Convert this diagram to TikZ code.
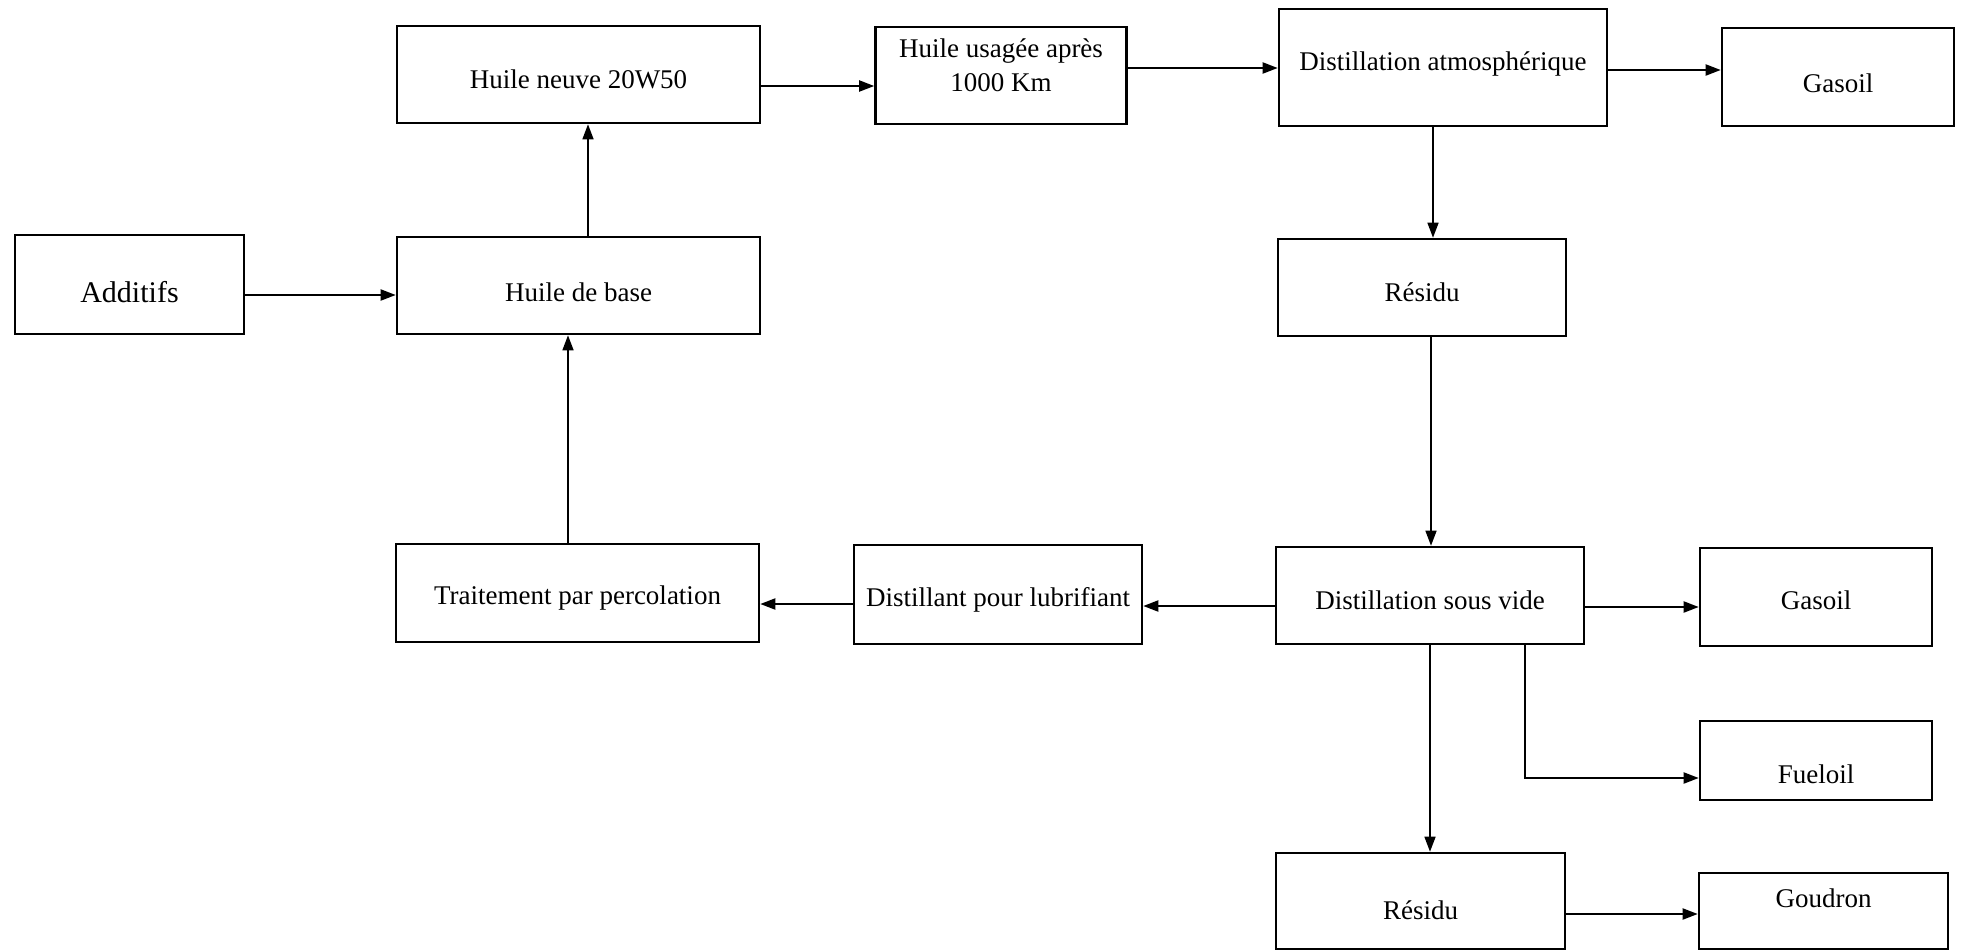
\documentclass[tikz,border=0pt]{standalone}
\usepackage{fontspec}
\setmainfont{Liberation Serif}
\usetikzlibrary{arrows.meta}
\begin{document}
\begin{tikzpicture}[x=1pt,y=-1pt,
  box/.style={draw=black,line width=2.6pt,rectangle,inner sep=0pt},
  lbl/.style={font=\fontsize{27}{34}\selectfont,align=center,inner sep=0pt},
  arr/.style={line width=2pt,-{Triangle[length=15pt,width=11pt]}},
  varr/.style={line width=1.5pt,-{Triangle[length=15pt,width=11pt]}}]
\useasboundingbox[fill=white] (0,0) rectangle (1963,951);
\node[box,minimum width=229pt,minimum height=99pt,label={[lbl,font=\fontsize{30}{36}\selectfont,yshift=-8pt]center:Additifs}] (add) at (129.5,284.5) {};
\node[box,minimum width=363pt,minimum height=97pt,label={[lbl,yshift=-7pt]center:Huile de base}] (base) at (578.5,285.5) {};
\node[box,minimum width=363pt,minimum height=97pt,label={[lbl,yshift=-5pt]center:Huile neuve 20W50}] (neuve) at (578.5,74.5) {};
\node[box,minimum width=251pt,minimum height=97pt,label={[lbl,yshift=10pt]center:Huile usagée après\\1000 Km}] (usagee) at (1001,75.5) {};
\node[box,minimum width=328pt,minimum height=117pt,label={[lbl,yshift=4pt]center:Distillation atmosphérique}] (datm) at (1443,67.5) {};
\node[box,minimum width=232pt,minimum height=98pt,label={[lbl,yshift=-6pt]center:Gasoil}] (gas1) at (1838,77) {};
\node[box,minimum width=288pt,minimum height=97pt,label={[lbl,yshift=-5pt]center:Résidu}] (res1) at (1422,287.5) {};
\node[box,minimum width=363pt,minimum height=98pt,label={[lbl,yshift=-5pt]center:Traitement par percolation}] (trait) at (577.5,593) {};
\node[box,minimum width=288pt,minimum height=99pt,label={[lbl,yshift=-5pt]center:Distillant pour lubrifiant}] (distil) at (998,594.5) {};
\node[box,minimum width=308pt,minimum height=97pt,label={[lbl,yshift=-5pt]center:Distillation sous vide}] (dsv) at (1430,595.5) {};
\node[box,minimum width=232pt,minimum height=98pt,label={[lbl,yshift=-3pt]center:Gasoil}] (gas2) at (1816,597) {};
\node[box,minimum width=232pt,minimum height=79pt,label={[lbl,yshift=-14pt]center:Fueloil}] (fuel) at (1816,760.5) {};
\node[box,minimum width=289pt,minimum height=96pt,label={[lbl,yshift=-9pt]center:Résidu}] (res2) at (1420.5,901) {};
\node[box,minimum width=249pt,minimum height=76pt,label={[lbl,yshift=13pt]center:Goudron}] (goud) at (1823.5,911) {};
\draw[arr] (add.east |- 0,295) -- (base.west |- 0,295);
\draw[varr] (base.north -| 588,0) -- (neuve.south -| 588,0);
\draw[arr] (neuve.east |- 0,86) -- (usagee.west |- 0,86);
\draw[arr] (usagee.east |- 0,68) -- (datm.west |- 0,68);
\draw[arr] (datm.east |- 0,70) -- (gas1.west |- 0,70);
\draw[varr] (datm.south -| 1433,0) -- (res1.north -| 1433,0);
\draw[varr] (res1.south -| 1431,0) -- (dsv.north -| 1431,0);
\draw[arr] (dsv.west |- 0,606) -- (distil.east |- 0,606);
\draw[arr] (distil.west |- 0,604) -- (trait.east |- 0,604);
\draw[varr] (trait.north -| 568,0) -- (base.south -| 568,0);
\draw[arr] (dsv.east |- 0,607) -- (gas2.west |- 0,607);
\draw[arr] (dsv.south -| 1525,0) |- (fuel.west |- 0,778);
\draw[varr] (dsv.south -| 1430,0) -- (res2.north -| 1430,0);
\draw[arr] (res2.east |- 0,914) -- (goud.west |- 0,914);
\end{tikzpicture}
\end{document}
